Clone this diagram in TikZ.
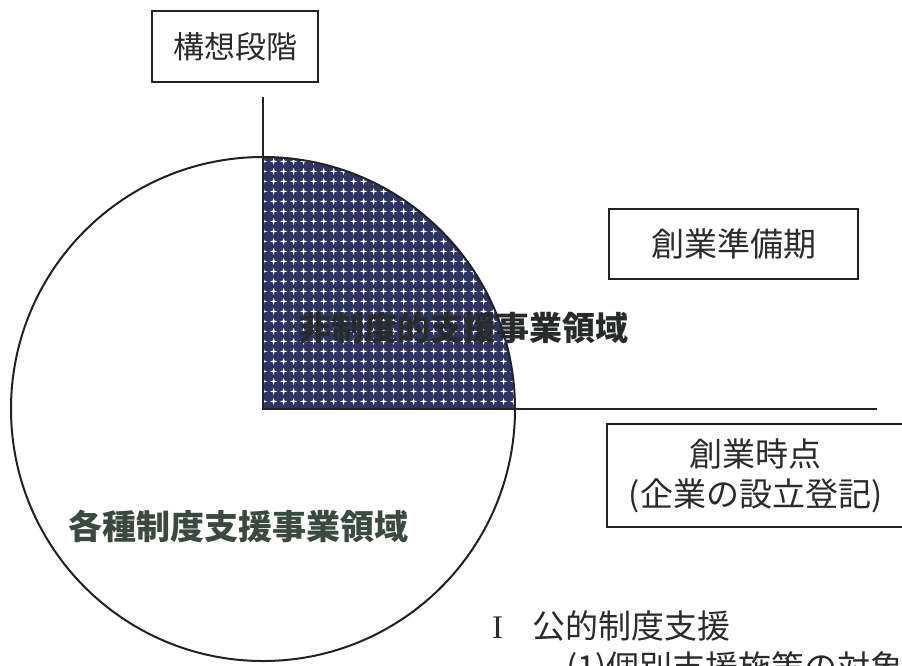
\documentclass[tikz,border=0pt]{standalone}
\usepackage{fontspec}
\newfontfamily\jp{Noto Sans CJK JP}
\newfontfamily\romanf{Liberation Serif}
\usetikzlibrary{patterns}
\definecolor{ink}{HTML}{222222}
\definecolor{navyfill}{HTML}{2E3563}
\definecolor{labelA}{HTML}{262C2A}
\definecolor{labelB}{HTML}{3A4A3F}
\definecolor{btext}{HTML}{2B2B2B}
\pgfdeclarepatternformonly{starsq}{\pgfqpoint{0pt}{0pt}}{\pgfqpoint{9.6pt}{9.6pt}}{\pgfqpoint{9.6pt}{9.6pt}}{%
  \pgfpathmoveto{\pgfqpoint{4.8pt}{1.0pt}}%
  \pgfpathlineto{\pgfqpoint{5.6pt}{4.0pt}}%
  \pgfpathlineto{\pgfqpoint{8.6pt}{4.8pt}}%
  \pgfpathlineto{\pgfqpoint{5.6pt}{5.6pt}}%
  \pgfpathlineto{\pgfqpoint{4.8pt}{8.6pt}}%
  \pgfpathlineto{\pgfqpoint{4.0pt}{5.6pt}}%
  \pgfpathlineto{\pgfqpoint{1.0pt}{4.8pt}}%
  \pgfpathlineto{\pgfqpoint{4.0pt}{4.0pt}}%
  \pgfpathclose
  \pgfusepath{fill}%
}
\begin{document}
\begin{tikzpicture}[x=1pt,y=-1pt,
  rulel/.style={draw=ink,line width=2pt},
  boxn/.style={draw=ink,line width=2.2pt,text=btext,inner sep=0pt,align=center},
  biglabel/.style={font=\jp\bfseries\fontsize{33}{33}\selectfont,inner sep=0pt,anchor=west},
  plaintext/.style={font=\jp\fontsize{33}{33}\selectfont,text=btext,inner sep=0pt}]
\clip (0,0) rectangle (902,665);
\fill[white] (0,0) rectangle (902,665);
\coordinate (O) at (263,409);
\coordinate (vtop) at (263,97);
\coordinate (hend) at (877,409);
\coordinate (qtop) at (263,157);
% shaded quadrant
\fill[navyfill] (O) -- (qtop) arc[start angle=270,end angle=360,radius=252] -- cycle;
\fill[pattern=starsq,pattern color=white] (O) -- (qtop) arc[start angle=270,end angle=360,radius=252] -- cycle;
% circle and axes
\draw[rulel] (O) circle[radius=252];
\draw[rulel] (vtop) -- (O) -- (hend);
% boxes
\node[boxn,font=\jp\fontsize{31}{31}\selectfont,minimum width=166pt,minimum height=71pt] (b1) at (235,46.5) {構想段階};
\node[boxn,font=\jp\fontsize{33}{33}\selectfont,minimum width=249pt,minimum height=70pt] (b2) at (733.5,244) {創業準備期};
\node[boxn,font=\jp\fontsize{33}{40}\selectfont,minimum width=297pt,minimum height=103pt] (b3) at (755.5,475.5) {創業時点\\(企業の設立登記)};
% area labels
\node[biglabel,text=labelA] (l1) at (298,328) {非制度的支援事業領域};
\node[biglabel,text=labelB,font=\jp\bfseries\fontsize{34}{34}\selectfont] (l2) at (68,526) {各種制度支援事業領域};
% bottom text
\node[plaintext,anchor=east] (t1) at (731,626) {{\romanf I}\hspace{0.9em}公的制度支援};
\node[plaintext,anchor=west] (t2) at (566,669) {(1)個別支援施策の対象};
\end{tikzpicture}
\end{document}
